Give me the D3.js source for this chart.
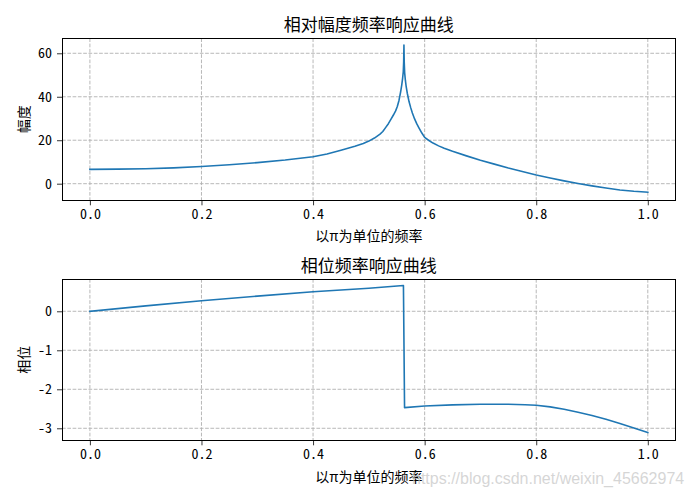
<!DOCTYPE html>
<html>
<head>
<meta charset="utf-8">
<script src="https://cdn.jsdelivr.net/npm/d3@7"></script>
<style>
  html, body { margin: 0; padding: 0; background: #fff; }
  svg { display: block; }
  .tick-label { font-family: "Noto Sans Mono CJK SC", "Noto Sans CJK SC", sans-serif; font-size: 14px; fill: #000; }
  .cjk { font-family: "Noto Sans CJK SC", sans-serif; fill: #000; }
</style>
</head>
<body>
<svg id="chart" width="692" height="497"></svg>
<script>
// ---- Data ----
const ampTitle = "相对幅度频率响应曲线";
const phaseTitle = "相位频率响应曲线";
const xLabel = "以π为单位的频率";
const ampYLabel = "幅度";
const phaseYLabel = "相位";
const watermark = "https://blog.csdn.net/weixin_45662974";

const xTicks = [0.0, 0.2, 0.4, 0.6, 0.8, 1.0];
const ampYTicks = [0, 20, 40, 60];
const phaseYTicks = [-3, -2, -1, 0];

// magnitude response (dB) vs normalized frequency (units of pi)
const ampFreq = [0.00, 0.05, 0.10, 0.15, 0.20, 0.25, 0.30, 0.35, 0.40, 0.425, 0.45, 0.475, 0.49, 0.50, 0.51, 0.52, 0.525, 0.53, 0.535, 0.54, 0.544, 0.548, 0.551, 0.554, 0.557, 0.559, 0.5605, 0.5617, 0.5624, 0.5629, 0.5634, 0.5642, 0.5655, 0.567, 0.569, 0.572, 0.575, 0.578, 0.582, 0.586, 0.59, 0.595, 0.60, 0.607, 0.615, 0.625, 0.635, 0.65, 0.675, 0.70, 0.725, 0.75, 0.775, 0.80, 0.825, 0.85, 0.875, 0.90, 0.925, 0.95, 0.975, 1.00];
const ampValues = [6.6, 6.7, 6.9, 7.3, 7.9, 8.7, 9.7, 10.9, 12.4, 13.7, 15.4, 17.2, 18.5, 19.6, 21.0, 22.8, 24.0, 25.8, 27.6, 29.8, 31.6, 33.5, 35.5, 38.3, 42.3, 45.5, 48.5, 51.5, 56.0, 63.8, 56.0, 51.0, 47.5, 44.5, 41.5, 37.8, 35.0, 32.5, 29.8, 27.5, 25.6, 23.3, 21.3, 20.0, 18.7, 17.4, 16.3, 14.9, 12.8, 10.8, 9.0, 7.2, 5.6, 4.0, 2.6, 1.3, 0.1, -1.0, -2.0, -2.9, -3.5, -3.9];

// phase response (rad)
const phaseFreq = [0.00, 0.10, 0.20, 0.30, 0.40, 0.50, 0.562, 0.564, 0.60, 0.65, 0.70, 0.75, 0.78, 0.80, 0.825, 0.85, 0.875, 0.90, 0.925, 0.95, 0.975, 1.00];
const phaseValues = [0.00, 0.14, 0.27, 0.39, 0.50, 0.59, 0.66, -2.47, -2.43, -2.40, -2.385, -2.385, -2.395, -2.41, -2.45, -2.51, -2.59, -2.67, -2.77, -2.88, -2.99, -3.11];

// ---- Drawing ----
const svg = d3.select("#chart");
const left = 62, right = 675.7;
const lineColor = "#1f77b4";

function panel(cfg) {
  const x = d3.scaleLinear().domain([-0.05, 1.05]).range([left, right]);
  const y = d3.scaleLinear().domain(cfg.yDomain).range([cfg.bottom, cfg.top]);
  const g = svg.append("g");

  // grid
  g.append("g").selectAll("line").data(xTicks).join("line")
    .attr("x1", d => x(d)).attr("x2", d => x(d))
    .attr("y1", cfg.top).attr("y2", cfg.bottom)
    .attr("stroke", "#b0b0b0").attr("stroke-width", 0.9)
    .attr("stroke-dasharray", "3.7,1.6");
  g.append("g").selectAll("line").data(cfg.yTicks).join("line")
    .attr("x1", left).attr("x2", right)
    .attr("y1", d => y(d)).attr("y2", d => y(d))
    .attr("stroke", "#b0b0b0").attr("stroke-width", 0.9)
    .attr("stroke-dasharray", "3.7,1.6");

  // line
  const pts = cfg.xs.map((v, i) => [v, cfg.ys[i]]);
  g.append("path").datum(pts)
    .attr("fill", "none").attr("stroke", lineColor).attr("stroke-width", 1.6)
    .attr("stroke-linejoin", "round").attr("stroke-linecap", "square")
    .attr("d", d3.line().x(d => x(d[0])).y(d => y(d[1])));

  // axes
  const xAxis = d3.axisBottom(x).tickValues(xTicks).tickFormat(d3.format(".1f")).tickSize(5).tickPadding(4);
  const xa = g.append("g").attr("transform", `translate(0,${cfg.bottom})`).call(xAxis);
  const yAxis = d3.axisLeft(y).tickValues(cfg.yTicks).tickFormat(d => String(d)).tickSize(5).tickPadding(5);
  const ya = g.append("g").attr("transform", `translate(${left},0)`).call(yAxis);
  [xa, ya].forEach(a => {
    a.select(".domain").remove();
    a.selectAll(".tick line").attr("stroke", "#000").attr("stroke-width", 0.8);
    a.selectAll(".tick text").attr("class", "tick-label").attr("fill", "#000").style("font-size", null).style("font-family", null);
    a.attr("font-size", null).attr("font-family", null);
  });

  // frame
  g.append("rect").attr("x", left).attr("y", cfg.top)
    .attr("width", right - left).attr("height", cfg.bottom - cfg.top)
    .attr("fill", "none").attr("stroke", "#000").attr("stroke-width", 1)
    .attr("shape-rendering", "crispEdges");

  // title
  g.append("text").attr("class", "cjk").attr("x", (left + right) / 2).attr("y", cfg.titleY)
    .attr("text-anchor", "middle").attr("dominant-baseline", "central")
    .style("font-size", "17px").text(cfg.title);
  // x label
  g.append("text").attr("class", "cjk").attr("x", (left + right) / 2).attr("y", cfg.xLabelY)
    .attr("text-anchor", "middle").attr("dominant-baseline", "central")
    .style("font-size", "14px").text(xLabel);
  // y label
  const cy = (cfg.top + cfg.bottom) / 2;
  g.append("text").attr("class", "cjk")
    .attr("transform", `translate(23,${cy}) rotate(-90)`)
    .attr("text-anchor", "middle").attr("dominant-baseline", "central")
    .style("font-size", "14px").text(cfg.yLabel);
}

panel({
  top: 38.3, bottom: 200.3, yDomain: [-7.64, 66.9], yTicks: ampYTicks,
  xs: ampFreq, ys: ampValues, title: ampTitle, titleY: 23, xLabelY: 235, yLabel: ampYLabel
});
panel({
  top: 279, bottom: 440.3, yDomain: [-3.308, 0.828], yTicks: phaseYTicks,
  xs: phaseFreq, ys: phaseValues, title: phaseTitle, titleY: 264, xLabelY: 476, yLabel: phaseYLabel
});

// watermark
svg.append("text").attr("x", 412).attr("y", 478)
  .attr("dominant-baseline", "central")
  .style("font-family", "'Liberation Sans', Arial, sans-serif").style("font-size", "16px")
  .attr("fill", "#c8c8c8").attr("fill-opacity", 0.75)
  .text(watermark);
</script>
</body>
</html>
